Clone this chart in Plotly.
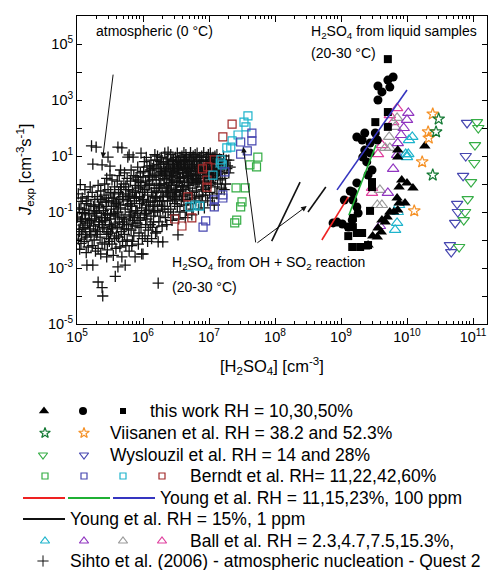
import plotly.graph_objects as go

# ---------------- data (log10 of [H2SO4] cm^-3, log10 of J cm^-3 s^-1) ----------------
sihto_log = [
 (5.02,-0.35),(5.06,-0.62),(5.03,-0.85),(5.08,-1.02),(5.01,-1.18),(5.05,-1.33),(5.09,-1.47),(5.03,-1.62),(5.07,-1.81),(5.02,-1.97),(5.06,-2.12),(5.04,-2.33),(5.05,-0.02),(5.08,-0.5),(5.04,-1.7),
 (5.12,-0.2),(5.17,-0.45),(5.14,-0.7),(5.11,-0.9),(5.18,-1.1),(5.13,-1.25),(5.16,-1.4),(5.12,-1.55),(5.19,-1.7),(5.15,-1.9),(5.11,-2.05),(5.17,-2.25),(5.14,-2.45),(5.15,-2.9),(5.18,-0.95),(5.13,-1.8),
 (5.22,1.36),(5.24,0.71),(5.2,-0.1),(5.23,-0.3),(5.27,-0.55),(5.21,-0.75),(5.26,-0.95),(5.29,-1.15),(5.22,-1.3),(5.25,-1.5),(5.28,-1.65),(5.21,-1.85),(5.26,-2.0),(5.23,-2.2),(5.28,-2.4),(5.24,-2.9),(5.29,1.32),(5.27,-1.05),
 (5.32,-0.05),(5.36,-0.25),(5.31,-0.45),(5.38,-0.65),(5.34,-0.85),(5.3,-1.0),(5.37,-1.2),(5.33,-1.35),(5.39,-1.55),(5.31,-1.7),(5.35,-1.9),(5.38,-2.1),(5.32,-2.3),(5.36,-2.5),(5.32,-3.5),(5.38,-3.7),(5.39,-4.0),(5.38,0.68),(5.34,-1.45),
 (5.45,0.2),(5.42,0.0),(5.47,-0.2),(5.41,-0.4),(5.48,-0.6),(5.44,-0.8),(5.4,-0.95),(5.46,-1.1),(5.43,-1.3),(5.49,-1.45),(5.41,-1.6),(5.45,-1.8),(5.48,-1.95),(5.42,-2.15),(5.46,-2.35),(5.45,-2.6),(5.47,0.96),(5.44,-0.5),(5.42,-1.2),(5.49,-2.05),
 (5.5,0.64),(5.5,0.32),(5.53,0.15),(5.57,-0.1),(5.51,-0.3),(5.55,-0.5),(5.59,-0.7),(5.52,-0.9),(5.56,-1.05),(5.5,-1.25),(5.58,-1.4),(5.54,-1.6),(5.51,-1.75),(5.57,-1.95),(5.53,-2.15),(5.59,-2.3),(5.55,-2.55),(5.58,-3.3),(5.56,-0.8),(5.52,-1.5),
 (5.62,1.32),(5.68,1.29),(5.64,0.3),(5.61,0.1),(5.67,-0.1),(5.63,-0.3),(5.69,-0.45),(5.6,-0.65),(5.66,-0.85),(5.62,-1.0),(5.68,-1.2),(5.64,-1.35),(5.61,-1.55),(5.67,-1.7),(5.63,-1.9),(5.69,-2.05),(5.65,-2.25),(5.62,-2.96),(5.68,-2.6),(5.66,0.5),(5.65,-0.55),(5.61,-1.1),
 (5.77,0.96),(5.79,1.04),(5.72,0.4),(5.76,0.2),(5.71,0.0),(5.78,-0.2),(5.74,-0.35),(5.7,-0.55),(5.77,-0.75),(5.73,-0.9),(5.79,-1.1),(5.71,-1.25),(5.75,-1.45),(5.78,-1.6),(5.72,-1.8),(5.76,-2.0),(5.74,-2.2),(5.79,-2.4),(5.73,-2.9),(5.76,-0.6),(5.72,-1.35),
 (5.85,0.96),(5.82,0.5),(5.86,0.3),(5.81,0.1),(5.88,-0.05),(5.84,-0.25),(5.8,-0.4),(5.87,-0.6),(5.83,-0.8),(5.89,-0.95),(5.81,-1.15),(5.85,-1.3),(5.88,-1.5),(5.82,-1.65),(5.86,-1.85),(5.84,-2.05),(5.88,-2.6),(5.83,-2.2),(5.87,-0.5),(5.82,-1.0),(5.89,0.15),
 (5.92,0.6),(5.96,0.4),(5.91,0.25),(5.97,0.05),(5.93,-0.15),(5.99,-0.3),(5.9,-0.5),(5.95,-0.7),(5.98,-0.85),(5.92,-1.05),(5.96,-1.2),(5.91,-1.4),(5.97,-1.55),(5.94,-1.75),(5.99,-1.95),(5.93,-2.15),(5.98,-2.5),(5.95,-0.45),(5.91,-0.95),(5.97,1.1),
 (6.0,-2.5),(6.02,0.8),(6.06,0.6),(6.01,0.45),(6.08,0.3),(6.04,0.1),(6.09,-0.05),(6.03,-0.2),(6.07,-0.4),(6.01,-0.55),(6.05,-0.75),(6.09,-0.9),(6.02,-1.1),(6.06,-1.25),(6.04,-1.45),(6.08,-1.65),(6.03,-1.85),(6.07,-2.05),(6.05,0.95),(6.08,-0.65),(6.02,-0.3),
 (6.12,0.85),(6.16,0.65),(6.11,0.5),(6.18,0.35),(6.14,0.15),(6.1,0.0),(6.17,-0.15),(6.13,-0.3),(6.19,-0.5),(6.11,-0.65),(6.15,-0.8),(6.18,-1.0),(6.12,-1.15),(6.16,-1.35),(6.14,-1.55),(6.19,-1.75),(6.13,-1.95),(6.15,0.25),(6.17,-0.6),(6.11,-1.45),(6.18,1.05),
 (6.23,-2.07),(6.3,-2.07),(6.23,-3.54),(6.22,1.0),(6.26,0.8),(6.21,0.6),(6.28,0.45),(6.24,0.3),(6.2,0.15),(6.27,0.0),(6.23,-0.15),(6.29,-0.3),(6.21,-0.45),(6.25,-0.6),(6.28,-0.8),(6.22,-0.95),(6.26,-1.15),(6.24,-1.35),(6.29,-1.5),(6.21,-1.7),(6.27,0.55),(6.25,-0.05),(6.22,-0.75),
 (6.33,1.1),(6.37,0.9),(6.31,0.75),(6.38,0.6),(6.34,0.45),(6.3,0.3),(6.36,0.15),(6.32,0.0),(6.39,-0.15),(6.35,-0.3),(6.31,-0.45),(6.37,-0.6),(6.33,-0.8),(6.38,-1.0),(6.34,-1.2),(6.36,-1.45),(6.39,0.7),(6.32,0.2),(6.35,-0.1),(6.3,-0.9),(6.38,1.14),
 (6.42,1.05),(6.46,0.85),(6.41,0.7),(6.48,0.55),(6.44,0.4),(6.4,0.25),(6.47,0.1),(6.43,-0.05),(6.49,-0.2),(6.41,-0.35),(6.45,-0.5),(6.48,-0.7),(6.42,-0.9),(6.46,-1.1),(6.44,-1.3),(6.45,0.65),(6.43,0.3),(6.47,-0.3),(6.49,0.95),(6.41,-0.6),
 (6.53,-1.82),(6.52,1.1),(6.56,0.95),(6.51,0.8),(6.58,0.65),(6.54,0.5),(6.5,0.35),(6.57,0.2),(6.53,0.05),(6.59,-0.1),(6.51,-0.25),(6.55,-0.4),(6.58,-0.6),(6.52,-0.8),(6.56,-1.0),(6.54,-1.25),(6.57,0.75),(6.55,0.25),(6.5,-0.55),(6.59,1.0),(6.52,0.4),
 (6.62,1.12),(6.66,0.95),(6.61,0.8),(6.68,0.7),(6.64,0.55),(6.6,0.4),(6.67,0.25),(6.63,0.1),(6.69,-0.05),(6.61,-0.2),(6.65,-0.35),(6.68,-0.55),(6.62,-0.75),(6.66,-0.95),(6.64,-1.2),(6.67,0.6),(6.63,0.85),(6.69,0.3),(6.6,-0.1),(6.65,1.05),
 (6.72,1.12),(6.76,1.0),(6.71,0.85),(6.78,0.7),(6.74,0.55),(6.7,0.45),(6.77,0.3),(6.73,0.15),(6.79,0.0),(6.71,-0.15),(6.75,-0.3),(6.78,-0.5),(6.72,-0.7),(6.76,-0.9),(6.74,-1.1),(6.77,0.8),(6.73,0.6),(6.79,1.05),(6.75,0.2),(6.71,-0.4),
 (6.82,1.1),(6.86,0.95),(6.81,0.8),(6.88,0.65),(6.84,0.5),(6.8,0.35),(6.87,0.2),(6.83,0.05),(6.89,-0.1),(6.81,-0.25),(6.85,-0.45),(6.88,-0.65),(6.84,-0.9),(6.86,0.7),(6.82,0.45),(6.89,1.0),(6.85,0.1),(6.8,-0.6),
 (6.92,1.12),(6.96,0.95),(6.91,0.85),(6.98,0.7),(6.94,0.55),(6.9,0.4),(6.97,0.25),(6.93,0.1),(6.99,-0.05),(6.91,-0.2),(6.95,-0.4),(6.98,-0.6),(6.93,-0.85),(6.96,0.6),(6.92,0.3),(6.99,1.05),(6.95,-0.15),
 (7.02,1.1),(7.06,0.95),(7.01,0.8),(7.08,0.65),(7.04,0.5),(7.0,0.35),(7.07,0.2),(7.03,0.05),(7.09,-0.1),(7.01,-0.3),(7.05,-0.5),(7.08,-0.75),(7.06,0.75),(7.03,0.4),(7.09,1.0),
 (7.12,1.05),(7.16,0.9),(7.11,0.75),(7.18,0.6),(7.14,0.45),(7.1,0.3),(7.17,0.15),(7.13,0.0),(7.19,-0.15),(7.12,-0.35),(7.16,0.5),(7.15,0.8),
 (7.22,1.0),(7.26,0.85),(7.21,0.7),(7.27,0.55),(7.24,0.4),(7.2,0.2),(7.25,0.0),(7.23,-0.2),(7.28,0.65),
 (7.3,0.85),(7.32,0.6),(7.3,0.4),
 (5.04,-0.9),(5.09,-1.6),(5.15,-0.6),(5.19,-1.35),(5.25,-0.8),(5.3,-1.8),(5.36,-0.55),(5.43,-1.05),(5.47,-1.7),(5.53,-0.6),(5.58,-1.15),(5.63,-0.75),(5.69,-1.45),
 (5.74,-0.1),(5.81,-0.7),(5.87,-1.2),(5.93,0.1),(5.99,-0.6),(6.04,-0.95),(6.1,0.3),(6.15,-0.45),(6.2,-0.25),(6.26,0.4),(6.3,-0.6),(6.36,0.5),(6.41,0.05),
 (6.46,0.45),(6.51,-0.05),(6.56,0.6),(6.61,0.25),(6.66,0.4),(6.7,0.95),(6.75,0.65),(6.81,0.15),(6.85,0.85),(6.9,-0.4),(6.95,0.8),(7.0,0.6),(7.05,0.25),(7.11,0.55),
 (6.14,0.55),(6.24,0.7),(6.33,0.35),(6.44,0.85),(6.54,0.85),(6.63,0.7),(6.72,0.35),(6.83,0.6),(6.93,0.45),(7.04,0.85),(6.38,-0.4),(6.48,-0.45),(6.6,-0.45),(6.06,-0.05),(5.96,-0.1),
 (5.07,-1.25),(5.12,-1.05),(5.2,-1.6),(5.27,-1.25),(5.33,-0.75),(5.38,-1.35),(5.45,-0.65),(5.51,-1.1),(5.57,-0.35),(5.6,-1.85),(5.66,-0.2),(5.71,-1.6),(5.78,-0.45),
 (5.84,-1.4),(5.89,-0.3),(5.94,-1.3),(6.0,0.25),(6.05,-1.05),(6.1,0.65),(6.16,-0.95),(6.21,0.85),(6.27,-0.45),(6.32,0.55),(6.37,-0.25),(6.42,0.45),(6.47,0.7),
 (6.52,0.6),(6.57,-0.25),(6.62,0.5),(6.67,0.05),(6.7,0.7),(6.74,0.9),(6.79,0.45),(6.84,0.3),(6.88,0.85),(6.94,0.2),(6.98,0.5),(7.02,0.2),(7.07,0.55),(7.13,0.35),
 (6.28,0.95),(6.35,0.8),(6.45,0.15),(6.55,0.1),(6.65,0.85),(6.76,0.1),(6.87,0.4),(6.97,0.95),(7.08,0.85),(7.18,0.85),
]

berndt_green_log = [(7.74,0.96),(7.62,0.68),(7.72,0.61),(7.41,-0.14),(7.55,-0.14),(7.5,-0.64),(7.48,-0.82),(7.42,-1.29),(7.39,-1.39)]
berndt_blue_log = [(7.65,1.82),(7.65,1.54),(7.48,1.5),(7.58,1.18),(7.48,1.07),(7.24,0.43),(7.21,-0.39),(7.21,-0.5),(7.08,-0.57),(7.08,-0.82),(6.95,-1.32),(6.91,-1.54)]
berndt_cyan_log = [(7.59,2.43),(7.53,2.21),(7.56,2.04),(7.44,1.75),(7.35,1.54),(7.33,1.32),(7.27,1.29),(7.18,0.86),(7.2,0.68),(7.06,0.32),(6.86,-0.79),(6.79,-0.75),(6.71,-0.82),(7.17,0.75)]
berndt_red_log = [(7.35,2.14),(7.21,1.68),(7.08,0.86),(6.9,0.54),(6.98,0.61),(6.97,0.14),(6.97,-0.11),(6.68,-0.46),(6.48,-1.25),(6.59,-1.5),(6.74,-1.21)]

work_tri_log = [(10.27,1.36),(9.86,1.21),(9.86,0.96),(9.92,0.14),(10.0,0.04),(10.09,-0.14),(9.88,-0.11),(9.85,-0.5),(9.88,-0.68),(9.97,-0.68),(9.74,-1.0),(9.8,-1.0),(9.86,-0.93),(9.7,-1.18),(9.62,-1.29),(9.56,-1.57),(9.61,-1.71),(9.48,-1.86),(9.55,-1.89),(9.41,-2.18),(9.36,-2.25),(9.67,-1.36)]
work_circ_log = [(9.79,3.82),(9.71,3.71),(9.56,3.5),(9.74,3.46),(9.62,3.29),(9.56,3.0),(9.24,1.68),(9.36,1.82),(9.32,1.57),(9.44,1.46),(9.52,1.82),(9.55,1.57),(9.36,1.21),(9.44,1.11),(9.33,0.96),(9.39,0.79),(9.47,0.5),(9.41,0.32),(9.24,0.04),(9.14,-0.25),(9.18,-0.29),(9.05,-0.57),(9.18,-0.57),(9.26,-1.04),(9.24,-0.82),(8.88,-1.39),(9.02,-1.43),(8.94,-1.36),(9.17,-1.29),(9.11,-1.54)]
work_sq_log = [(9.71,4.46),(9.71,2.57),(9.52,2.21),(9.71,2.04),(9.47,0.07),(9.47,-0.11),(9.44,-0.96),(9.18,-1.21),(9.12,-1.54),(9.32,-1.75),(9.11,-1.86),(9.24,-1.75),(9.17,-2.25),(9.29,-2.25),(9.41,-2.18),(9.18,-1.54)]

ball_cyan_log = [(10.08,1.68),(10.03,1.57),(10.02,1.07),(9.98,1.07),(10.0,0.96),(9.86,-1.0),(9.85,-1.39),(9.82,-1.64),(9.88,-0.75)]
ball_purple_log = [(10.02,2.54),(10.0,2.29),(9.95,2.0),(9.91,1.75),(9.86,1.46),(9.85,1.04),(9.79,0.54),(9.71,-0.32),(9.59,-1.5)]
ball_gray_log = [(9.85,2.36),(9.82,2.04),(9.73,1.68),(9.67,1.29),(9.74,1.29),(9.59,-0.21),(9.55,-0.75),(9.62,-0.75)]
ball_pink_log = [(9.85,2.71),(9.74,2.46),(9.79,2.21),(9.62,1.39),(9.56,1.07),(9.47,-0.14),(9.47,-0.32)]

viis_green_log = [(10.48,2.32),(10.44,1.86),(10.39,0.32)]
viis_orange_log = [(10.39,2.5),(10.32,1.86),(10.33,1.64),(10.23,0.79),(10.11,-0.96)]

wys_blue_log = [(10.91,2.18),(10.89,1.0),(10.85,0.29),(10.76,-0.71),(10.77,-1.0),(10.73,-1.39),(10.65,-2.18),(10.67,-2.43)]
wys_green_log = [(11.06,2.21),(11.08,2.0),(11.03,1.39),(11.02,0.75),(10.97,0.07),(10.92,-0.54),(10.88,-1.0),(10.86,-1.29),(10.79,-2.25)]

young_red_log = [(8.71,-2.0),(9.11,-0.46)]
young_green_log = [(9.12,-1.11),(9.53,1.39)]
young_blue_log = [(8.94,-0.21),(10.0,3.36)]
young_1ppm_a_log = [(7.95,-2.04),(8.38,0.07)]
young_1ppm_b_log = [(8.5,-1.0),(8.77,-0.11)]

x_tick_exp = [5, 6, 7, 8, 9, 10, 11]
y_tick_exp = [-5, -4, -3, -2, -1, 0, 1, 2, 3, 4, 5, 6]
y_label_exp = [-5, -3, -1, 1, 3, 5]

# ---------------- helpers ----------------
def xy(pairs):
    return [10 ** a for a, b in pairs], [10 ** b for a, b in pairs]

FONT = "Liberation Sans, Arial, sans-serif"
C_GREEN = "#35ad45"; C_BLUE = "#4646b0"; C_CYAN = "#1eb4cc"; C_RED = "#a22a2a"
C_DGREEN = "#157a35"; C_ORANGE = "#f59228"
C_PURPLE = "#9035c0"; C_GRAY = "#9a9a9a"; C_PINK = "#e0409f"
L_RED = "#ee2222"; L_GREEN = "#1fb034"; L_BLUE = "#3535c0"

fig = go.Figure()

def add_markers(pairs, symbol, color, size, lw=1.2):
    x, y = xy(pairs)
    mk = dict(symbol=symbol, size=size, color=color, line=dict(color=color, width=lw))
    fig.add_trace(go.Scatter(x=x, y=y, mode="markers", marker=mk,
                             xaxis="x", yaxis="y", showlegend=False, hoverinfo="skip"))

def add_line(pairs, color, width):
    x, y = xy(pairs)
    fig.add_trace(go.Scatter(x=x, y=y, mode="lines", line=dict(color=color, width=width),
                             xaxis="x", yaxis="y", showlegend=False, hoverinfo="skip"))

add_markers(sihto_log, "cross-thin", "#111111", 8, lw=1.3)
add_markers(berndt_red_log, "square-open", C_RED, 8)
add_markers(berndt_cyan_log, "square-open", C_CYAN, 8)
add_markers(berndt_blue_log, "square-open", C_BLUE, 8)
add_markers(berndt_green_log, "square-open", C_GREEN, 8)
add_line(young_1ppm_a_log, "#111111", 1.6)
add_line(young_1ppm_b_log, "#111111", 1.6)
add_markers(ball_pink_log, "triangle-up-open", C_PINK, 10)
add_markers(ball_gray_log, "triangle-up-open", C_GRAY, 10)
add_markers(ball_purple_log, "triangle-up-open", C_PURPLE, 10)
add_markers(ball_cyan_log, "triangle-up-open", C_CYAN, 10)
add_markers(work_sq_log, "square", "black", 8, lw=0)
add_markers(work_circ_log, "circle", "black", 9, lw=0)
add_markers(work_tri_log, "triangle-up", "black", 10, lw=0)
add_line(young_red_log, L_RED, 1.6)
add_line(young_green_log, L_GREEN, 1.6)
add_line(young_blue_log, L_BLUE, 1.6)
add_markers(viis_orange_log, "star-open", C_ORANGE, 9)
add_markers(viis_green_log, "star-open", C_DGREEN, 9)
add_markers(wys_blue_log, "triangle-down-open", C_BLUE, 10)
add_markers(wys_green_log, "triangle-down-open", C_GREEN, 10)

# ---------------- legend (drawn on a hidden pixel-space axis) ----------------
def leg_marker(px, py, symbol, color, size, lw=1.2):
    fig.add_trace(go.Scatter(x=[px], y=[py], mode="markers", xaxis="x2", yaxis="y2",
                             marker=dict(symbol=symbol, size=size, color=color,
                                         line=dict(color=color, width=lw)),
                             showlegend=False, hoverinfo="skip"))

def leg_line(x0, x1, py, color):
    fig.add_trace(go.Scatter(x=[x0, x1], y=[py, py], mode="lines", xaxis="x2", yaxis="y2",
                             line=dict(color=color, width=2), showlegend=False, hoverinfo="skip"))

rows = [411, 433, 455, 476, 498, 519, 541, 561]
leg_marker(44, rows[0], "triangle-up", "black", 9, 0)
leg_marker(83, rows[0], "circle", "black", 8, 0)
leg_marker(123, rows[0], "square", "black", 6, 0)
leg_marker(45, rows[1], "star-open", C_DGREEN, 8)
leg_marker(84, rows[1], "star-open", C_ORANGE, 8)
leg_marker(43, rows[2], "triangle-down-open", C_GREEN, 8)
leg_marker(84, rows[2], "triangle-down-open", C_BLUE, 8)
for px, c in [(45, C_GREEN), (84, C_BLUE), (123, C_CYAN), (162, C_RED)]:
    leg_marker(px, rows[3], "square-open", c, 6)
leg_line(23, 65, rows[4], L_RED)
leg_line(68, 110, rows[4], L_GREEN)
leg_line(113, 155, rows[4], L_BLUE)
leg_line(23, 65, rows[5], "#111111")
for px, c in [(45, C_CYAN), (84, C_PURPLE), (123, C_GRAY), (162, C_PINK)]:
    leg_marker(px, rows[6], "triangle-up-open", c, 8)
leg_marker(43, rows[7], "cross-thin", "#111111", 8, 1)

leg_texts = [
    (148, "this work RH = 10,30,50%"),
    (108, "Viisanen et al. RH = 38.2 and 52.3%"),
    (108, "Wyslouzil et al. RH = 14 and 28%"),
    (188, "Berndt et al. RH= 11,22,42,60%"),
    (158, "Young et al. RH = 11,15,23%, 100 ppm"),
    (68, "Young et al. RH = 15%, 1 ppm"),
    (188, "Ball et al. RH = 2.3,4.7,7.5,15.3%,"),
    (68, "Sihto et al. (2006) - atmospheric nucleation - Quest 2"),
]

W, H = 490, 570
annotations = []
for (px, txt), py in zip(leg_texts, rows):
    annotations.append(dict(x=px, y=py, xref="x2", yref="y2", text=txt, showarrow=False,
                            xanchor="left", yanchor="middle",
                            font=dict(size=17.5, color="black", family=FONT)))

def ptext(px, py, txt, size, anchor="left", angle=0):
    annotations.append(dict(x=px / W, y=1 - py / H, xref="paper", yref="paper", text=txt,
                            showarrow=False, xanchor=anchor, yanchor="middle", textangle=angle,
                            font=dict(size=size, color="black", family=FONT)))

ptext(94, 31, "atmospheric (0 °C)", 14)
ptext(309, 32, "H<sub>2</sub>SO<sub>4</sub> from liquid samples", 14)
ptext(309, 53, "(20-30 °C)", 14)
ptext(170, 263, "H<sub>2</sub>SO<sub>4</sub> from OH + SO<sub>2</sub> reaction", 14)
ptext(170, 287, "(20-30 °C)", 14)
ptext(272, 366, "[H<sub>2</sub>SO<sub>4</sub>] [cm<sup>-3</sup>]", 16.5, anchor="center")
ptext(25, 170, "<i>J</i><sub>exp</sub> [cm<sup>-3</sup>s<sup>-1</sup>]", 16.5, anchor="center", angle=-90)

# arrows (tip, tail) in log10 data units
arrows = [((5.39, 0.93), (5.55, 3.96)), ((7.52, 1.32), (7.71, -2.14)), ((8.48, -0.79), (7.71, -2.14))]
for (tx, ty), (sx, sy) in arrows:
    annotations.append(dict(x=tx, y=ty, ax=sx, ay=sy, xref="x", yref="y", axref="x", ayref="y",
                            text="", showarrow=True, arrowhead=2, arrowsize=1.1, arrowwidth=1,
                            arrowcolor="#111111"))

minor_x = [k * 10 ** e for e in range(5, 11) for k in range(2, 10)]

fig.update_layout(
    width=W, height=H, margin=dict(l=0, r=0, t=0, b=0, autoexpand=False),
    paper_bgcolor="white", plot_bgcolor="rgba(0,0,0,0)", showlegend=False,
    font=dict(family=FONT, color="black"),
    xaxis=dict(type="log", range=[5, 5 + 410 / 66], domain=[77 / W, 487 / W], anchor="y",
               tickmode="array", tickvals=[10 ** e for e in x_tick_exp],
               ticktext=["10<sup>%d</sup>" % e for e in x_tick_exp],
               ticks="inside", ticklen=6, tickwidth=1, tickcolor="black",
               showline=True, linecolor="black", linewidth=1, mirror="ticks",
               showgrid=False, zeroline=False, automargin=False,
               tickfont=dict(size=14.5, family=FONT),
               minor=dict(tickmode="array", tickvals=minor_x, ticks="inside", ticklen=3,
                          tickwidth=1, tickcolor="black", showgrid=False)),
    yaxis=dict(type="log", range=[-5, 6], domain=[1 - 324 / H, 1 - 16 / H], anchor="x",
               tickmode="array", tickvals=[10.0 ** e for e in y_tick_exp],
               ticktext=[("10<sup>%d</sup>" % e) if e in y_label_exp else "" for e in y_tick_exp],
               ticks="inside", ticklen=5, tickwidth=1, tickcolor="black",
               showline=True, linecolor="black", linewidth=1, mirror="ticks",
               showgrid=False, zeroline=False, automargin=False,
               tickfont=dict(size=14.5, family=FONT)),
    xaxis2=dict(domain=[0, 1], range=[0, W], visible=False, anchor="y2", fixedrange=True),
    yaxis2=dict(domain=[0, 1], range=[H, 0], visible=False, anchor="x2", fixedrange=True),
    annotations=annotations,
)

fig.write_html("out.html")
